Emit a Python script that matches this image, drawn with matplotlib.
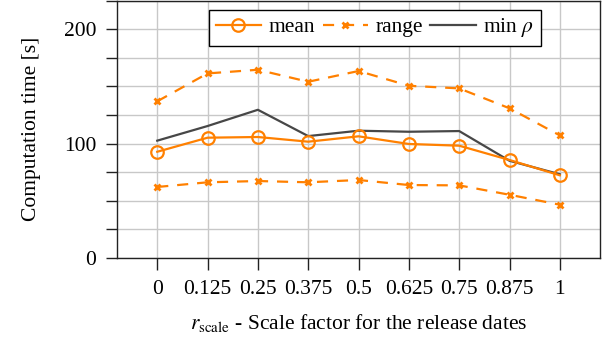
import numpy as np
import matplotlib
matplotlib.use("Agg")
import matplotlib.pyplot as plt

# data
r_scale = [0, 0.125, 0.25, 0.375, 0.5, 0.625, 0.75, 0.875, 1]
x_labels = ["0", "0.125", "0.25", "0.375", "0.5", "0.625", "0.75", "0.875", "1"]
mean_time = [92.9, 105.2, 105.8, 101.7, 106.4, 99.7, 98.2, 85.7, 72.3]
range_upper = [137.0, 161.4, 164.6, 154.1, 163.5, 150.6, 148.3, 130.9, 107.2]
range_lower = [62.1, 66.2, 67.3, 66.2, 68.2, 63.8, 63.5, 55.3, 46.6]
min_rho = [102.6, 115.4, 129.6, 106.6, 111.3, 110.4, 111.0, 85.0, 73.2]

orange = "#ff8000"
dark = "#474747"

plt.rcParams['font.family'] = ['Liberation Serif', 'DejaVu Serif']
plt.rcParams['mathtext.fontset'] = 'stix'
plt.rcParams['font.size'] = 15.5

fig = plt.figure(figsize=(6.08, 3.41), dpi=100)
ax = fig.add_axes([0.1924, 0.2434, 0.7946, 0.7546])

ax.plot(r_scale, mean_time, color=orange, lw=1.6, marker='o', ms=9,
        mfc='none', mew=1.6, label='mean', zorder=4)
ax.plot(r_scale, range_upper, color=orange, lw=1.6, ls=(0, (5, 4)), marker='x',
        ms=4.5, mew=2, label='range', zorder=3)
ax.plot(r_scale, range_lower, color=orange, lw=1.6, ls=(0, (5, 4)), marker='x',
        ms=4.5, mew=2, zorder=3)
ax.plot(r_scale, min_rho, color=dark, lw=1.6, label=r'min $\rho$', zorder=3)

ax.set_xlim(-0.1, 1.1)
ax.set_ylim(0, 225)
ax.set_xticks(r_scale)
ax.set_xticklabels(x_labels)
ax.set_yticks(np.arange(0, 226, 25))
ax.set_yticklabels([str(v) if v % 100 == 0 else "" for v in range(0, 226, 25)])
ax.tick_params(axis='x', direction='out', length=8.5, width=1, pad=7, color='#222222')
ax.tick_params(axis='y', direction='out', length=8, width=1, pad=7, color='#222222')
ax.grid(True, color='#c8c8c8', lw=1)
ax.set_axisbelow(True)
for s in ax.spines.values():
    s.set_color('#222222')
    s.set_linewidth(1)

ax.set_xlabel(r'$r_{\mathrm{scale}}$ - Scale factor for the release dates', labelpad=10)
ax.set_ylabel('Computation time [s]', labelpad=16)

leg = ax.legend(loc='upper center', bbox_to_anchor=(0.534, 0.99), ncol=3,
                frameon=True, fancybox=False, edgecolor='black', framealpha=1,
                handlelength=2.1, columnspacing=0.35, handletextpad=0.35,
                borderpad=0.3, borderaxespad=0.3, fontsize=15.5)
leg.get_frame().set_linewidth(1)

fig.savefig("out.png", dpi=100)
